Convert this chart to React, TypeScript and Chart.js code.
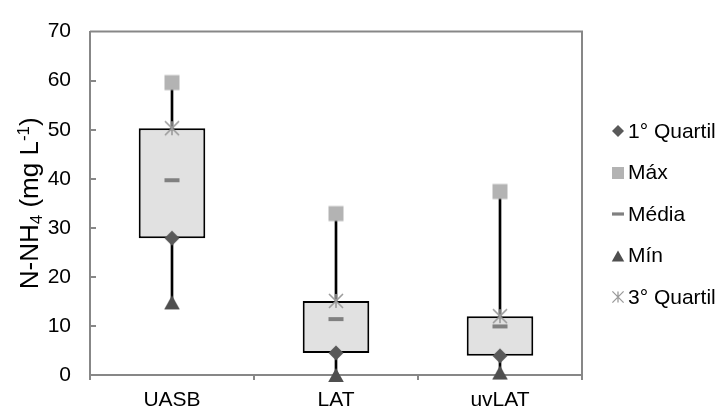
import React, { useEffect, useRef } from 'react';
import { Chart, registerables } from 'chart.js';

Chart.register(...registerables);

// ---- data ----
const categories = ['UASB', 'LAT', 'uvLAT'];
const q1Values = [27.9, 4.5, 3.9];
const maxValues = [59.6, 32.9, 37.4];
const meanValues = [39.7, 11.4, 9.9];
const minValues = [14.8, 0, 0.5];
const q3Values = [50.3, 15.1, 12.0];
const seriesLabels = ['1° Quartil', 'Máx', 'Média', 'Mín', '3° Quartil'];
const yMin = 0;
const yMax = 70;
const yStep = 10;

// ---- styles ----
const FONT = "'Liberation Sans', Arial, sans-serif";
const AXIS_COLOR = '#878787';
const BOX_FILL = '#e1e1e1';
const Q1_COLOR = '#595959';
const MAX_COLOR = '#b3b3b3';
const MEAN_COLOR = '#808080';
const MIN_COLOR = '#4f4f4f';
const Q3_COLOR = '#9a9a9a';

type Kind = 'diamond' | 'square' | 'dash' | 'triangle' | 'star';

function makeMarker(kind: Kind, color: string, s: number): HTMLCanvasElement {
  const c = document.createElement('canvas');
  const size = 2 * Math.ceil(10 * s);
  c.width = size;
  c.height = size;
  const g = c.getContext('2d')!;
  const cx = size / 2;
  const cy = size / 2;
  g.fillStyle = color;
  g.strokeStyle = color;
  if (kind === 'diamond') {
    const r = 7.5 * s;
    g.beginPath();
    g.moveTo(cx, cy - r);
    g.lineTo(cx + r, cy);
    g.lineTo(cx, cy + r);
    g.lineTo(cx - r, cy);
    g.closePath();
    g.fill();
  } else if (kind === 'square') {
    const a = 15 * s;
    g.fillRect(cx - a / 2, cy - a / 2, a, a);
  } else if (kind === 'dash') {
    const w = 15 * s;
    const h = 4 * s;
    g.fillRect(cx - w / 2, cy - h / 2, w, h);
  } else if (kind === 'triangle') {
    const w = 15.6 * s;
    const h = 14 * s;
    g.beginPath();
    g.moveTo(cx, cy - h / 2);
    g.lineTo(cx + w / 2, cy + h / 2);
    g.lineTo(cx - w / 2, cy + h / 2);
    g.closePath();
    g.fill();
  } else {
    const r = 7 * s;
    g.lineWidth = 1.6 * s;
    g.beginPath();
    g.moveTo(cx, cy - r);
    g.lineTo(cx, cy + r);
    g.moveTo(cx - r, cy - r);
    g.lineTo(cx + r, cy + r);
    g.moveTo(cx + r, cy - r);
    g.lineTo(cx - r, cy + r);
    g.stroke();
  }
  return c;
}

const framePlugin = {
  id: 'frameAndTicks',
  beforeDatasetsDraw(chart: any) {
    const { ctx, chartArea: a, scales } = chart;
    ctx.save();
    ctx.strokeStyle = AXIS_COLOR;
    ctx.lineWidth = 2;
    ctx.beginPath();
    ctx.moveTo(a.left, a.top);
    ctx.lineTo(a.right, a.top);
    ctx.lineTo(a.right, a.bottom);
    ctx.stroke();
    const ys = scales.y;
    ctx.beginPath();
    ys.ticks.forEach((t: any) => {
      if (t.value > ys.min && t.value < ys.max) {
        const py = Math.round(ys.getPixelForValue(t.value));
        ctx.moveTo(a.left, py);
        ctx.lineTo(a.left + 6, py);
      }
    });
    ctx.stroke();
    ctx.restore();
  },
};

const titlePlugin = {
  id: 'yTitle',
  afterDraw(chart: any) {
    const { ctx, chartArea: a } = chart;
    const size = 26;
    const small = Math.round(size * 0.65);
    const parts: { t: string; f: number; dy: number }[] = [
      { t: 'N-NH', f: size, dy: 0 },
      { t: '4', f: small, dy: size * 0.16 },
      { t: ' (mg L', f: size, dy: 0 },
      { t: '-1', f: small, dy: -size * 0.36 },
      { t: ')', f: size, dy: 0 },
    ];
    ctx.save();
    let total = 0;
    parts.forEach((p) => {
      ctx.font = `${p.f}px ${FONT}`;
      total += ctx.measureText(p.t).width;
    });
    ctx.translate(38, (a.top + a.bottom) / 2);
    ctx.rotate(-Math.PI / 2);
    ctx.fillStyle = '#000';
    ctx.textBaseline = 'alphabetic';
    ctx.textAlign = 'left';
    let x = -total / 2;
    parts.forEach((p) => {
      ctx.font = `${p.f}px ${FONT}`;
      ctx.fillText(p.t, x, p.dy);
      x += ctx.measureText(p.t).width;
    });
    ctx.restore();
  },
};

const legendPlugin = {
  id: 'sideLegend',
  afterDraw(chart: any) {
    const { ctx } = chart;
    const items = chart.data.datasets.filter((d: any) => d.legendIcon);
    const markerX = 617.5;
    const textX = 628;
    const startY = 131;
    const stepY = 41.5;
    ctx.save();
    ctx.font = `21px ${FONT}`;
    ctx.fillStyle = '#000';
    ctx.textBaseline = 'middle';
    ctx.textAlign = 'left';
    items.forEach((d: any, i: number) => {
      const y = startY + i * stepY;
      const icon: HTMLCanvasElement = d.legendIcon;
      ctx.drawImage(icon, Math.round(markerX - icon.width / 2), Math.round(y - icon.height / 2));
      ctx.fillText(d.label, textX, y + 1);
    });
    ctx.restore();
  },
};

export default function App() {
  const ref = useRef<HTMLCanvasElement | null>(null);

  useEffect(() => {
    if (!ref.current) return;
    const markerSpec: [Kind, string, number[]][] = [
      ['diamond', Q1_COLOR, q1Values],
      ['square', MAX_COLOR, maxValues],
      ['dash', MEAN_COLOR, meanValues],
      ['triangle', MIN_COLOR, minValues],
      ['star', Q3_COLOR, q3Values],
    ];
    const drawOrder = [2, 4, 3, 1, 1];
    const markerSets = markerSpec.map(([kind, color, values], i) => ({
      type: 'line' as const,
      label: seriesLabels[i],
      data: values,
      showLine: false,
      pointStyle: makeMarker(kind, color, 1),
      legendIcon: makeMarker(kind, color, 0.8),
      pointRadius: 8,
      pointHoverRadius: 8,
      clip: false,
      order: drawOrder[i],
    }));

    const chart = new Chart(ref.current, {
      type: 'bar',
      data: {
        labels: categories,
        datasets: [
          {
            type: 'bar',
            label: 'whisker',
            data: categories.map((_, i) => [minValues[i], maxValues[i]]),
            backgroundColor: '#000',
            borderWidth: 0,
            barThickness: 2,
            grouped: false,
            order: 20,
          } as any,
          {
            type: 'bar',
            label: 'box',
            data: categories.map((_, i) => [q1Values[i], q3Values[i]]),
            backgroundColor: BOX_FILL,
            borderColor: '#000',
            borderWidth: 2,
            borderSkipped: false,
            barPercentage: 0.406,
            categoryPercentage: 1,
            grouped: false,
            order: 10,
          } as any,
          ...(markerSets as any[]),
        ],
      },
      options: {
        animation: false,
        responsive: false,
        devicePixelRatio: 1,
        events: [],
        layout: { padding: { top: 25, right: 137, left: 0, bottom: 0 } },
        plugins: {
          legend: { display: false },
          tooltip: { enabled: false },
        },
        scales: {
          x: {
            type: 'category',
            offset: true,
            grid: {
              offset: true,
              drawOnChartArea: false,
              tickLength: 5,
              color: AXIS_COLOR,
              lineWidth: 2,
            },
            border: { display: true, color: AXIS_COLOR, width: 2 },
            ticks: { font: { size: 21, family: FONT }, color: '#000', padding: 8 },
            afterFit: (s: any) => {
              s.height = 35;
            },
          },
          y: {
            min: yMin,
            max: yMax,
            grid: { display: false, drawTicks: false },
            border: { display: true, color: AXIS_COLOR, width: 2 },
            ticks: { stepSize: yStep, font: { size: 21, family: FONT }, color: '#000', padding: 19 },
            afterFit: (s: any) => {
              s.width = 90;
            },
          },
        },
      } as any,
      plugins: [framePlugin, titlePlugin, legendPlugin],
    });
    return () => chart.destroy();
  }, []);

  return (
    <div style={{ position: 'absolute', left: 0, top: 0, width: 719, height: 410 }}>
      <canvas ref={ref} width={719} height={410} style={{ display: 'block', width: 719, height: 410 }} />
    </div>
  );
}
